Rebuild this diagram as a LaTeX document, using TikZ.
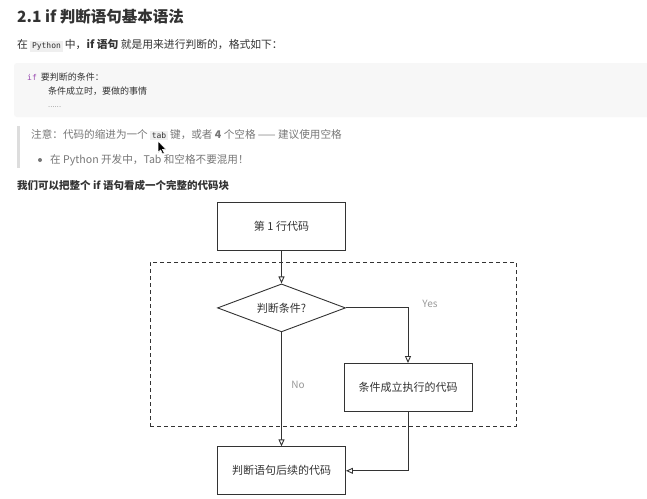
\documentclass[tikz,border=0pt]{standalone}
\usepackage{fontspec}
\setmainfont{Noto Sans CJK SC}
\newfontfamily\codefont{DejaVu Sans Mono}
\usepackage{xcolor}
\usepackage{tikz}
\usetikzlibrary{arrows.meta,positioning,shapes.geometric}
\definecolor{ink}{HTML}{333333}
\definecolor{notegray}{HTML}{777777}
\definecolor{labelgray}{HTML}{999999}
\definecolor{codebg}{HTML}{F7F7F7}
\definecolor{inlinebg}{HTML}{EFEFEF}
\definecolor{quotebar}{HTML}{DDDDDD}
\definecolor{codepurple}{HTML}{9A4CB0}
\newcommand{\inlinecode}[1]{{\setlength{\fboxsep}{1.6pt}\colorbox{inlinebg}{\codefont\fontsize{8}{9}\selectfont\color{ink}#1}}}

\begin{document}
\begin{tikzpicture}[
  x=1pt,y=-1pt,
  txt/.style={anchor=west,inner sep=0pt,text=ink,font=\fontsize{10.6}{12}\selectfont},
  codeline/.style={anchor=west,inner sep=0pt,text=ink,font=\fontsize{9}{11}\selectfont},
  stepbox/.style={draw=ink,line width=0.9pt,minimum width=128pt,minimum height=48pt,inner sep=0pt,text=ink,font=\fontsize{11}{13}\selectfont},
  decision/.style={diamond,draw=ink,line width=0.9pt,aspect=2.6,minimum width=128pt,minimum height=48pt,inner sep=0pt,text=ink,font=\fontsize{11}{13}\selectfont},
  blockbox/.style={draw=ink,line width=0.9pt,dash pattern=on 4pt off 3pt,minimum width=366pt,minimum height=164pt,inner sep=0pt},
  flowlabel/.style={inner sep=0pt,text=labelgray,font=\fontsize{10}{12}\selectfont},
  flow/.style={draw=ink,line width=0.9pt,-{Triangle[open,length=7pt,width=6pt,fill=white]}}
]
\useasboundingbox (0,0) rectangle (647,498);
\fill[white] (0,0) rectangle (647,498);

\node[txt,font=\bfseries\fontsize{15.5}{18}\selectfont] (title) at (17,17) {2.1 if 判断语句基本语法};
\node[txt,font=\fontsize{10.8}{12}\selectfont] (intro) at (17,46) {在 \inlinecode{Python} 中，\textbf{if 语句} 就是用来进行判断的，格式如下：};

\fill[codebg,rounded corners=3pt] (14,63) rectangle (660,117);
\node[codeline] (code1) at (27,77) {{\codefont\fontsize{8}{9}\selectfont\color{codepurple}if}\hspace{4pt}要判断的条件：};
\node[codeline] (code2) at (48,91) {条件成立时，要做的事情};
\node[codeline,font=\fontsize{6}{7}\selectfont] (code3) at (48,107) {……};

\fill[quotebar] (17,126) rectangle (20,168);
\node[txt,text=notegray] (note) at (31,135) {注意：代码的缩进为一个 \inlinecode{tab} 键，或者 \textbf{4} 个空格 —— 建议使用空格};
\fill[notegray] (40,160) circle (2pt);
\node[txt,text=notegray] (tip) at (50,160) {在 Python 开发中，Tab 和空格不要混用！};
\filldraw[fill=black,draw=white,line width=0.5pt] (158,141) -- (158,152.5) -- (160.6,150) -- (162.6,154) -- (164.3,153.2) -- (162.4,149.3) -- (165.8,149.3) -- cycle;

\node[txt,font=\bfseries\fontsize{10.5}{12}\selectfont] (lead) at (17,185) {我们可以把整个 if 语句看成一个完整的代码块};

\node[blockbox] (block) at (333,344) {};
\node[stepbox] (first) at (281.5,226) {第 1 行代码};
\node[decision,below=33pt of first] (cond) {判断条件?};
\node[stepbox] (exec) at (408,387.5) {条件成立执行的代码};
\node[stepbox,below=114pt of cond] (after) {判断语句后续的代码};
\node[flowlabel] (yes) at (430,304) {Yes};
\node[flowlabel] (no) at (298,385) {No};

\draw[flow] (first) -- (cond);
\draw[flow] (cond.east) -| (exec.north);
\draw[flow] (cond.south) -- (after.north);
\draw[flow] (exec.south) |- (after.east);
\end{tikzpicture}
\end{document}
